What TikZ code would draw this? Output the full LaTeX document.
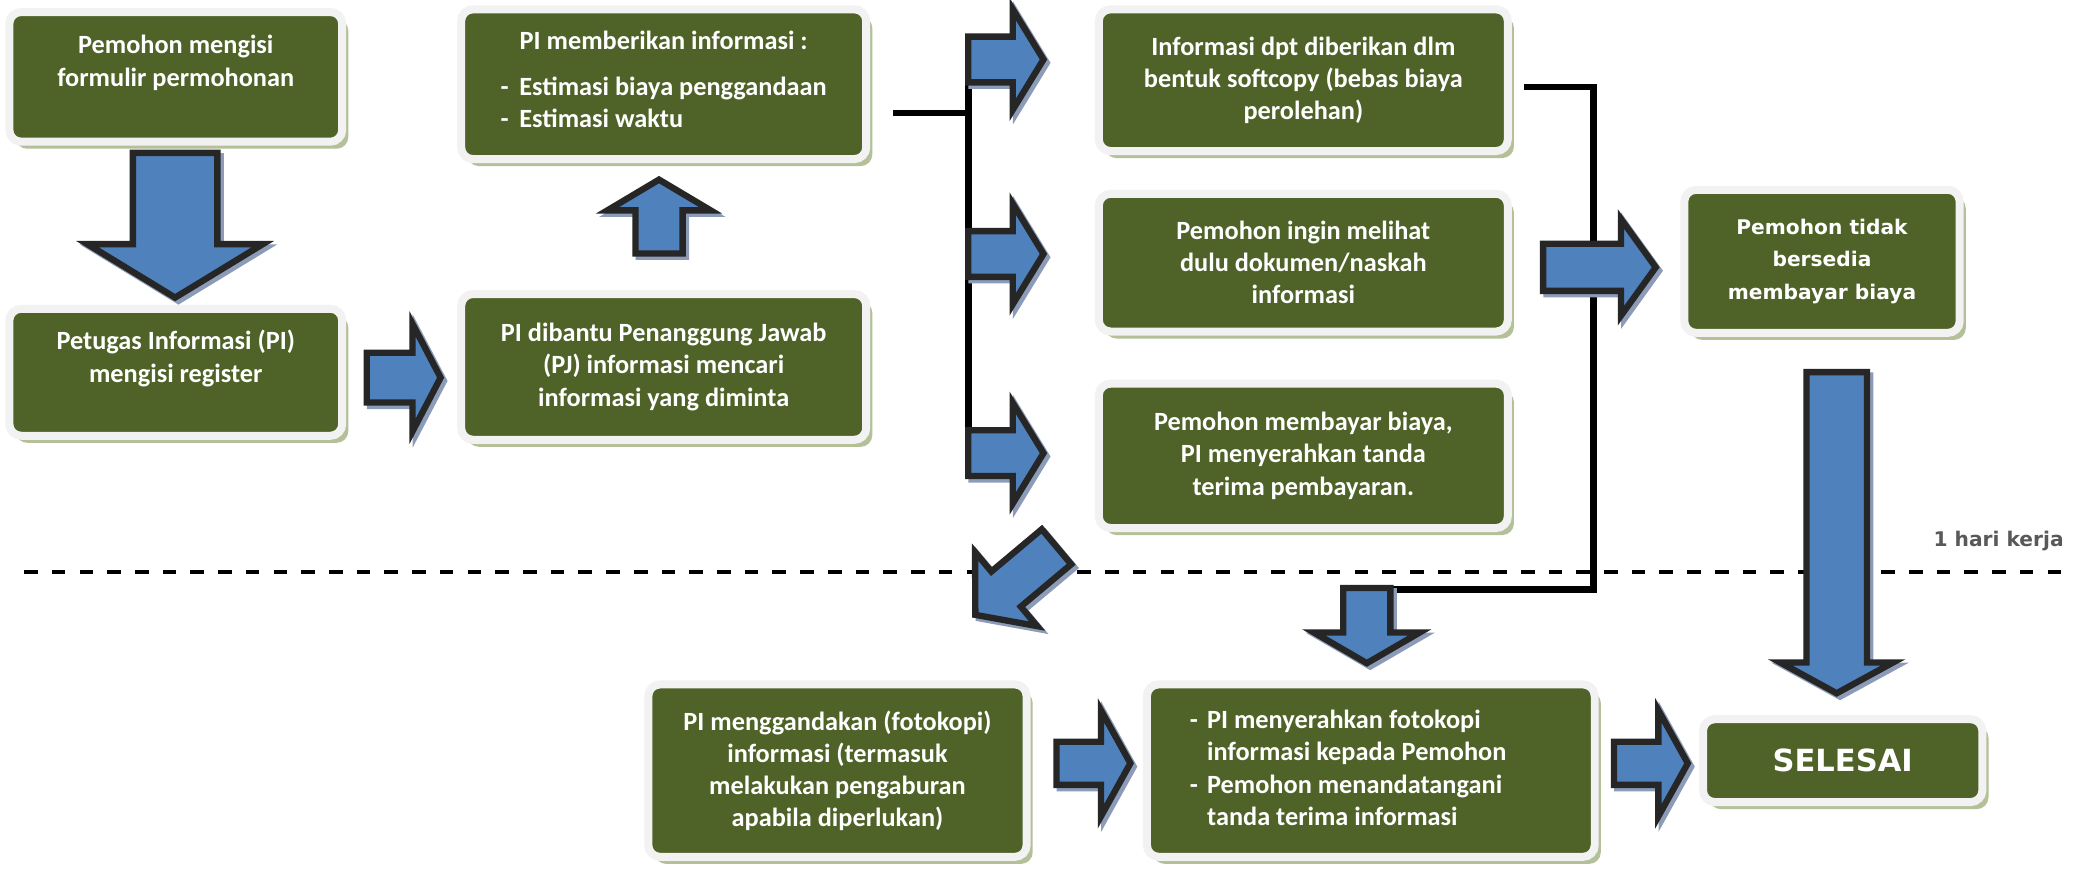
\documentclass[tikz,border=0pt]{standalone}
\usepackage{fontspec}
\newfontfamily\calibrifont{Carlito}
\newfontfamily\verdanafont{DejaVu Sans}
\usepackage{xcolor}
\usepackage{tikz}
\usetikzlibrary{shadows}
\definecolor{box-green}{RGB}{ 79,  98,  40}
\definecolor{box-rim}{RGB}{242, 242, 242}
\definecolor{box-shadow}{RGB}{180, 192, 152}
\definecolor{arrow-blue}{RGB}{ 79, 129, 189}
\definecolor{arrow-rim}{RGB}{ 38,  38,  38}
\definecolor{arrow-shadow}{RGB}{140, 156, 184}
\definecolor{note-gray}{RGB}{ 89,  89,  89}
\tikzstyle{box}=[rectangle,rounded corners=5pt,fill=box-green,draw=box-rim,line width=3.4pt,inner sep=0pt,align=center,text=white,font=\calibrifont\bfseries\fontsize{11.2}{13.7}\selectfont,drop shadow={shadow xshift=2.6pt,shadow yshift=-3pt,fill=box-shadow,opacity=1}]
\tikzstyle{box-v}=[box,font=\verdanafont\bfseries\fontsize{8.6}{13.7}\selectfont]
\tikzstyle{blk}=[fill=arrow-blue,draw=arrow-rim,line width=2.7pt,line join=miter]
\tikzstyle{blk-shadow}=[fill=arrow-shadow,draw=arrow-shadow,line width=2.7pt,line join=miter]
\tikzstyle{bracket}=[line width=2.8pt]
\tikzstyle{deadline}=[line width=1.7pt,dash pattern=on 5.8pt off 6pt]
% #1 centre, #2 direction, #3 length, #4 shaft, #5 head width, #6 head length
\newcommand\bluearrow[6]{%
  \begin{scope}[shift={#1},shift={(0.05,-0.05)},rotate=#2]
    \path[blk-shadow] ({-#3/2},{-#4/2}) -- ({#3/2-#6},{-#4/2}) -- ({#3/2-#6},{-#5/2}) -- ({#3/2},0)
                      -- ({#3/2-#6},{#5/2}) -- ({#3/2-#6},{#4/2}) -- ({-#3/2},{#4/2}) -- cycle;
  \end{scope}
  \begin{scope}[shift={#1},rotate=#2]
    \path[blk] ({-#3/2},{-#4/2}) -- ({#3/2-#6},{-#4/2}) -- ({#3/2-#6},{-#5/2}) -- ({#3/2},0)
               -- ({#3/2-#6},{#5/2}) -- ({#3/2-#6},{#4/2}) -- ({-#3/2},{#4/2}) -- cycle;
  \end{scope}}

\begin{document}
\begin{tikzpicture}

\fill[white] (0,0) rectangle (31.36,-13.02);
\useasboundingbox (0,0) rectangle (31.36,-13.02);

% Lines
\coordinate (fork in)   at (13.36,-1.69);
\coordinate (fork top)  at (14.49,-0.65);
\coordinate (fork bot)  at (14.49,-7.16);
\coordinate (join in)   at (22.80,-1.30);
\coordinate (join top)  at (23.84,-1.30);
\coordinate (join bot)  at (23.84,-8.82);
\coordinate (join out)  at (20.84,-8.82);
\coordinate (day left)  at ( 0.36,-8.56);
\coordinate (day right) at (30.96,-8.56);

\draw[deadline] (day left) -- (day right);
\draw[bracket]  (fork in) -- (fork in -| fork top);
\draw[bracket]  (fork top) -- (fork bot);
\draw[bracket]  (join in) -- (join top) -- (join bot) -- (join out);

\node[anchor=east,text=note-gray,font=\verdanafont\bfseries\fontsize{8.6}{10}\selectfont] (one day) at (31.0,-8.1) {1 hari kerja};

% Nodes
\node[box,minimum width=4.98cm,minimum height=1.94cm] (formulir)    at ( 2.63,-1.15)  {Pemohon mengisi\\formulir permohonan\\\mbox{}};
\node[box,minimum width=4.98cm,minimum height=1.90cm] (register)    at ( 2.63,-5.57)  {Petugas Informasi (PI)\\mengisi register\\\mbox{}};
\node[box,minimum width=6.06cm,minimum height=2.24cm] (estimasi)    at ( 9.93,-1.26)  {PI memberikan informasi :\\[9pt]\begin{tabular}{@{}l@{\hspace{0.4em}}l@{}}-&Estimasi biaya penggandaan\\-&Estimasi waktu\end{tabular}};
\node[box,minimum width=6.06cm,minimum height=2.18cm] (mencari)     at ( 9.93,-5.49)  {PI dibantu Penanggung Jawab\\(PJ) informasi mencari\\informasi yang diminta};
\node[box,minimum width=6.12cm,minimum height=2.12cm] (softcopy)    at (19.50,-1.20)  {Informasi dpt diberikan dlm\\bentuk softcopy (bebas biaya\\perolehan)};
\node[box,minimum width=6.12cm,minimum height=2.06cm] (melihat)     at (19.50,-3.93)  {Pemohon ingin melihat\\dulu dokumen/naskah\\informasi};
\node[box,minimum width=6.12cm,minimum height=2.16cm] (membayar)    at (19.50,-6.82)  {Pemohon membayar biaya,\\PI menyerahkan tanda\\terima pembayaran.};
\node[box-v,minimum width=4.12cm,minimum height=2.14cm] (tidak)     at (27.26,-3.91)  {Pemohon tidak\\bersedia\\membayar biaya};
\node[box,minimum width=5.66cm,minimum height=2.58cm] (fotokopi)    at (12.53,-11.53) {PI menggandakan (fotokopi)\\informasi (termasuk\\melakukan pengaburan\\apabila diperlukan)};
\node[box,minimum width=6.70cm,minimum height=2.58cm] (menyerahkan) at (20.51,-11.53) {\begin{tabular}{@{}l@{\hspace{0.35em}}l@{}}-&PI menyerahkan fotokopi\\&informasi kepada Pemohon\\-&Pemohon menandatangani\\&tanda terima informasi\end{tabular}\hspace{0.68cm}};
\node[box-v,minimum width=4.18cm,minimum height=1.24cm,font=\verdanafont\bfseries\fontsize{13}{15}\selectfont] (selesai) at (27.57,-11.38) {SELESAI};

% Arrows
\bluearrow{( 2.62,-3.37)}{270}{2.165}{1.265}{2.625}{0.80} % formulir -> register
\bluearrow{( 6.04,-5.65)}{0}  {1.105}{0.745}{1.605}{0.42} % register -> mencari
\bluearrow{( 9.86,-3.24)}{90} {1.105}{0.705}{1.545}{0.46} % mencari -> estimasi
\bluearrow{(15.05,-0.89)}{0}  {1.125}{0.685}{1.505}{0.46} % fork -> softcopy
\bluearrow{(15.05,-3.80)}{0}  {1.125}{0.685}{1.505}{0.46} % fork -> melihat
\bluearrow{(15.05,-6.78)}{0}  {1.125}{0.685}{1.505}{0.46} % fork -> membayar
\bluearrow{(23.93,-4.00)}{0}  {1.685}{0.705}{1.445}{0.52} % join -> tidak
\bluearrow{(20.45,-9.36)}{270}{1.125}{0.705}{1.585}{0.46} % join -> menyerahkan
\bluearrow{(27.48,-7.97)}{270}{4.805}{0.905}{1.685}{0.46} % tidak -> selesai
\bluearrow{(15.20,-8.69)}{220}{1.585}{0.685}{1.445}{0.60} % membayar -> fotokopi
\bluearrow{(16.36,-11.42)}{0} {1.105}{0.645}{1.585}{0.44} % fotokopi -> menyerahkan
\bluearrow{(24.70,-11.42)}{0} {1.105}{0.645}{1.585}{0.44} % menyerahkan -> selesai

\end{tikzpicture}
\end{document}
